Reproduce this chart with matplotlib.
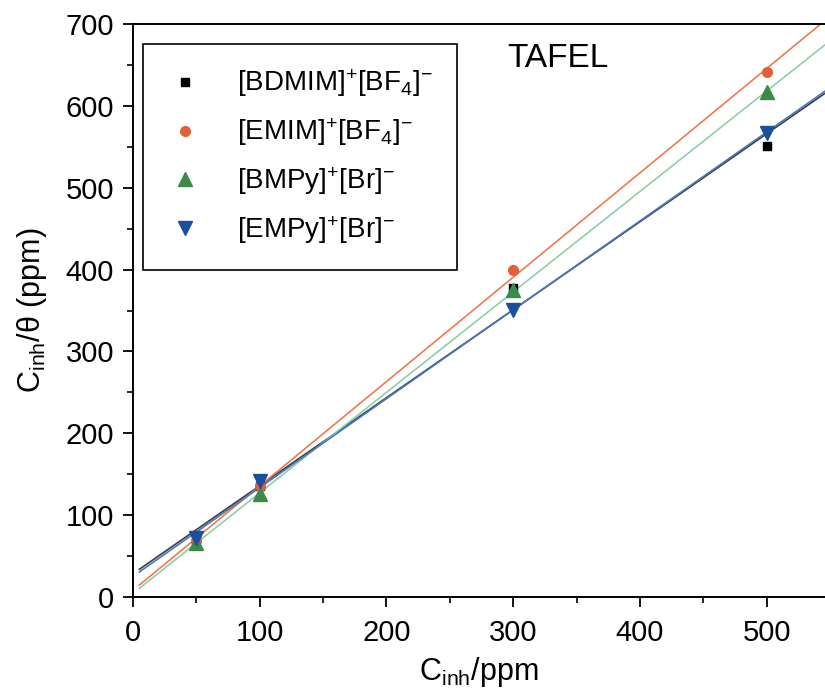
import numpy as np
import matplotlib
matplotlib.use("Agg")
import matplotlib.pyplot as plt
from matplotlib.ticker import MultipleLocator

plt.rcParams["font.family"] = ["Liberation Sans", "DejaVu Sans"]
plt.rcParams["mathtext.fontset"] = "custom"
plt.rcParams["mathtext.rm"] = "Liberation Sans"
plt.rcParams["mathtext.it"] = "Liberation Sans"

c_inh = np.array([50, 100, 300, 500])

bdmim = np.array([71, 135, 378, 551])
emim = np.array([68, 136, 399, 641])
bmpy = np.array([66, 126, 375, 617])
empy = np.array([72, 142, 351, 567])

labels = [r"[BDMIM]$^{+}$[BF$_{4}$]$^{-}$",
          r"[EMIM]$^{+}$[BF$_{4}$]$^{-}$",
          r"[BMPy]$^{+}$[Br]$^{-}$",
          r"[EMPy]$^{+}$[Br]$^{-}$"]

series = [bdmim, emim, bmpy, empy]
markers = ["s", "o", "^", "v"]
msizes = [6, 7, 10, 10]
mcolors = ["#000000", "#e2603a", "#3b8a4c", "#1b4f9c"]
lcolors = ["#3c3c3c", "#ee7a4e", "#8ccfa8", "#4a78c0"]

fig = plt.figure(figsize=(8.25, 6.96), dpi=100)
ax = fig.add_axes([133 / 825, 99 / 696, 692 / 825, 573 / 696])

# linear fit of each inhibitor, drawn across the whole range
xfit = np.linspace(5, 560, 50)
for y, lc in zip(series, lcolors):
    k, b = np.polyfit(c_inh, y, 1)
    ax.plot(xfit, k * xfit + b, color=lc, lw=1.2, zorder=2)

for y, m, ms, mc, lab in zip(series, markers, msizes, mcolors, labels):
    ax.plot(c_inh, y, linestyle="none", marker=m, ms=ms, color=mc,
            label=lab, zorder=3)

ax.set_xlim(0, 546)
ax.set_ylim(0, 700)
ax.xaxis.set_major_locator(MultipleLocator(100))
ax.xaxis.set_minor_locator(MultipleLocator(50))
ax.yaxis.set_major_locator(MultipleLocator(100))
ax.yaxis.set_minor_locator(MultipleLocator(50))
ax.tick_params(which="major", direction="out", length=7.5, width=1.3,
               labelsize=21)
ax.tick_params(axis="x", which="major", pad=8)
ax.tick_params(axis="y", which="major", pad=6)
ax.tick_params(which="minor", direction="out", length=4, width=1.2)
ax.tick_params(top=False, right=False)
for s in ["left", "bottom", "top"]:
    ax.spines[s].set_linewidth(1.4)
ax.spines["right"].set_visible(False)

ax.set_xlabel(r"C$_{\mathrm{inh}}$/ppm", fontsize=22, labelpad=6)
ax.set_ylabel(r"C$_{\mathrm{inh}}$/θ (ppm)", fontsize=22, labelpad=12)

ax.text(295, 658, "TAFEL", fontsize=24, ha="left", va="center")

leg = ax.legend(loc="upper left", bbox_to_anchor=(0.0145, 0.965),
                borderaxespad=0, fontsize=20, numpoints=1, fancybox=False,
                edgecolor="black", framealpha=1, labelspacing=0.62,
                handlelength=1.3, handletextpad=1.25, borderpad=0.85)
leg.get_frame().set_linewidth(1.2)

fig.savefig("out.png", dpi=100)
